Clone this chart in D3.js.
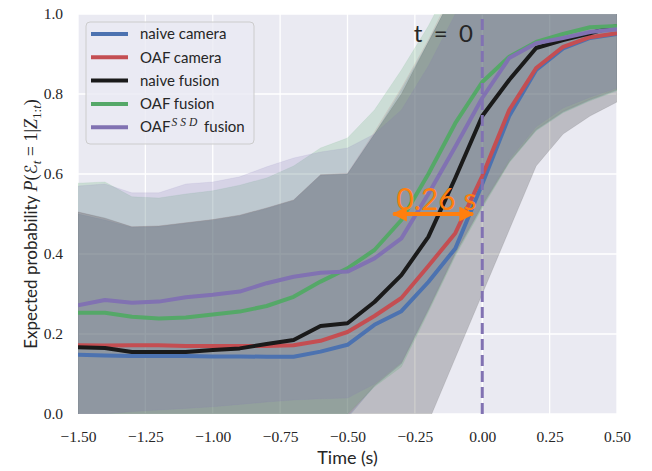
<!DOCTYPE html>
<html lang="en">
<head>
	<meta charset="utf-8"/>
	<title>Expected probability over time</title>
	<script src="https://d3js.org/d3.v7.min.js" charset="utf-8"></script>
	<style>
		body { margin: 0; background: #fff; }
		.axis .domain { display: none; }
		.axis text { font-family: "Liberation Serif", serif; font-size: 15.5px; fill: #262626; }
		.lbl { font-family: Lato, "Open Sans", sans-serif; fill: #262626; }
	</style>
</head>
<body>
<div id="chart"></div>

<script>
	// time steps (s)
	var times = [-1.5, -1.4, -1.3, -1.2, -1.1, -1.0, -0.9, -0.8, -0.7, -0.6, -0.5,
		-0.4, -0.3, -0.2, -0.1, 0.0, 0.1, 0.2, 0.3, 0.4, 0.5];

	var names = ["naive camera", "OAF camera", "naive fusion", "OAF fusion", "OAF^SSD fusion"];
	var colors = ["#4C72B0", "#C44E52", "#1a1a1a", "#55A868", "#8172B2"];
	var bandAlpha = [0.2, 0.1, 0.22, 0.2, 0.19];

	// mean curves
	var naiveCamera = [0.148, 0.146, 0.145, 0.145, 0.145, 0.144, 0.144, 0.143, 0.143, 0.156, 0.173,
		0.223, 0.257, 0.330, 0.414, 0.575, 0.745, 0.860, 0.914, 0.940, 0.950];
	var oafCamera = [0.172, 0.171, 0.172, 0.172, 0.170, 0.170, 0.170, 0.170, 0.172, 0.183, 0.205,
		0.245, 0.290, 0.370, 0.452, 0.595, 0.760, 0.865, 0.918, 0.942, 0.952];
	var naiveFusion = [0.167, 0.165, 0.155, 0.155, 0.155, 0.160, 0.164, 0.175, 0.185, 0.220, 0.227,
		0.280, 0.347, 0.443, 0.590, 0.745, 0.835, 0.915, 0.935, 0.952, 0.970];
	var oafFusion = [0.253, 0.253, 0.243, 0.239, 0.241, 0.249, 0.256, 0.270, 0.293, 0.331, 0.364,
		0.410, 0.485, 0.600, 0.727, 0.830, 0.893, 0.930, 0.950, 0.967, 0.970];
	var ssdFusion = [0.272, 0.285, 0.278, 0.281, 0.292, 0.298, 0.306, 0.327, 0.343, 0.353, 0.356,
		0.389, 0.439, 0.550, 0.668, 0.790, 0.890, 0.927, 0.940, 0.955, 0.962];

	// spread bands (lower / upper)
	var naiveCameraLo = [-0.20, -0.20, -0.20, -0.20, -0.20, -0.20, -0.20, -0.19, -0.16, -0.10, -0.01,
		0.070, 0.125, 0.26, 0.40, 0.52, 0.63, 0.71, 0.755, 0.785, 0.81];
	var naiveCameraHi = [0.500, 0.485, 0.466, 0.468, 0.476, 0.484, 0.495, 0.513, 0.533, 0.596, 0.600,
		0.700, 0.810, 0.930, 1.06, 1.10, 1.10, 1.10, 1.10, 1.10, 1.10];
	var oafCameraLo = [-0.18, -0.18, -0.18, -0.18, -0.18, -0.18, -0.18, -0.17, -0.15, -0.09, -0.005,
		0.072, 0.128, 0.262, 0.402, 0.522, 0.632, 0.712, 0.757, 0.787, 0.812];
	var oafCameraHi = [0.505, 0.488, 0.468, 0.470, 0.478, 0.486, 0.497, 0.515, 0.535, 0.598, 0.602,
		0.705, 0.815, 0.935, 1.07, 1.10, 1.10, 1.10, 1.10, 1.10, 1.10];
	var naiveFusionLo = [-0.17, -0.17, -0.16, -0.16, -0.16, -0.16, -0.17, -0.17, -0.17, -0.16, -0.15,
		-0.14, -0.11, -0.02, 0.14, 0.30, 0.46, 0.62, 0.70, 0.745, 0.78];
	var naiveFusionHi = [0.505, 0.490, 0.468, 0.470, 0.478, 0.486, 0.497, 0.515, 0.535, 0.598, 0.600,
		0.700, 0.800, 0.930, 1.06, 1.10, 1.10, 1.10, 1.10, 1.10, 1.10];
	var oafFusionLo = [-0.05, -0.05, -0.05, -0.05, -0.05, -0.05, -0.05, -0.04, -0.03, -0.02, 0.000,
		0.068, 0.118, 0.255, 0.395, 0.515, 0.628, 0.708, 0.753, 0.783, 0.808];
	var oafFusionHi = [0.577, 0.580, 0.543, 0.540, 0.550, 0.558, 0.572, 0.590, 0.620, 0.665, 0.690,
		0.760, 0.860, 0.970, 1.10, 1.10, 1.10, 1.10, 1.10, 1.10, 1.10];
	var ssdFusionLo = [0.000, 0.000, 0.006, 0.010, 0.014, 0.018, 0.024, 0.030, 0.035, 0.038, 0.040,
		0.075, 0.130, 0.265, 0.405, 0.525, 0.636, 0.718, 0.765, 0.792, 0.815];
	var ssdFusionHi = [0.570, 0.575, 0.553, 0.553, 0.575, 0.580, 0.593, 0.618, 0.640, 0.655, 0.665,
		0.700, 0.760, 0.870, 1.00, 1.10, 1.10, 1.10, 1.10, 1.10, 1.10];

	var xTicks = [-1.5, -1.25, -1.0, -0.75, -0.5, -0.25, 0.0, 0.25, 0.5];
	var yTicks = [0.0, 0.2, 0.4, 0.6, 0.8, 1.0];

	var means = [naiveCamera, oafCamera, naiveFusion, oafFusion, ssdFusion];
	var lows = [naiveCameraLo, oafCameraLo, naiveFusionLo, oafFusionLo, ssdFusionLo];
	var highs = [naiveCameraHi, oafCameraHi, naiveFusionHi, oafFusionHi, ssdFusionHi];

	var width = 652,
		height = 471;

	var svg = d3.select("#chart").append("svg")
		.attr("width", width)
		.attr("height", height);

	var x = d3.scaleLinear().domain([-1.5, 0.5]).range([78, 617]);
	var y = d3.scaleLinear().domain([0, 1]).range([414, 14]);

	var defs = svg.append("defs");
	defs.append("clipPath")
		.attr("id", "plotclip")
		.append("rect")
		.attr("x", x(-1.5)).attr("y", y(1))
		.attr("width", x(0.5) - x(-1.5)).attr("height", y(0) - y(1));

	// background + grid
	svg.append("rect")
		.attr("x", x(-1.5)).attr("y", y(1))
		.attr("width", x(0.5) - x(-1.5)).attr("height", y(0) - y(1))
		.attr("fill", "#EAEAF2");

	svg.append("g").selectAll("line")
		.data(xTicks).enter().append("line")
		.attr("x1", function(d) { return x(d); }).attr("x2", function(d) { return x(d); })
		.attr("y1", y(0)).attr("y2", y(1))
		.attr("stroke", "#fff").attr("stroke-width", 1.3);

	svg.append("g").selectAll("line")
		.data(yTicks).enter().append("line")
		.attr("y1", function(d) { return y(d); }).attr("y2", function(d) { return y(d); })
		.attr("x1", x(-1.5)).attr("x2", x(0.5))
		.attr("stroke", "#fff").attr("stroke-width", 1.3);

	var plot = svg.append("g").attr("clip-path", "url(#plotclip)");

	// bands
	means.forEach(function(m, s) {
		var area = d3.area()
			.x(function(d, i) { return x(times[i]); })
			.y0(function(d, i) { return y(lows[s][i]); })
			.y1(function(d, i) { return y(highs[s][i]); });
		plot.append("path")
			.datum(m)
			.attr("d", area)
			.attr("fill", colors[s])
			.attr("fill-opacity", bandAlpha[s])
			.attr("stroke", colors[s])
			.attr("stroke-opacity", 0.12)
			.attr("stroke-width", 0.8);
	});

	// mean lines
	var line = d3.line()
		.x(function(d, i) { return x(times[i]); })
		.y(function(d) { return y(d); });

	means.forEach(function(m, s) {
		plot.append("path")
			.datum(m)
			.attr("d", line)
			.attr("fill", "none")
			.attr("stroke", colors[s])
			.attr("stroke-width", 4)
			.attr("stroke-linejoin", "round");
	});

	// t = 0 marker
	plot.append("line")
		.attr("x1", x(0)).attr("x2", x(0))
		.attr("y1", y(0)).attr("y2", y(1))
		.attr("stroke", "#8172B2")
		.attr("stroke-width", 3)
		.attr("stroke-dasharray", "11,5");

	svg.append("text")
		.attr("class", "lbl")
		.attr("x", x(-0.035)).attr("y", 42)
		.attr("text-anchor", "end")
		.attr("font-size", 24)
		.attr("textLength", 59)
		.attr("lengthAdjust", "spacing")
		.text("t = 0");

	// 0.26 s arrow
	defs.append("marker")
		.attr("id", "head")
		.attr("viewBox", "0 0 10 10")
		.attr("refX", 9).attr("refY", 5)
		.attr("markerUnits", "userSpaceOnUse")
		.attr("markerWidth", 15).attr("markerHeight", 15)
		.attr("orient", "auto-start-reverse")
		.append("path")
		.attr("d", "M0,0L10,5L0,10z")
		.attr("fill", "#ff7f0e");

	svg.append("line")
		.attr("x1", x(-0.33)).attr("x2", x(-0.035))
		.attr("y1", y(0.5)).attr("y2", y(0.5))
		.attr("stroke", "#ff7f0e")
		.attr("stroke-width", 4)
		.attr("marker-start", "url(#head)")
		.attr("marker-end", "url(#head)");

	svg.append("text")
		.attr("x", x(-0.17)).attr("y", y(0.51))
		.attr("text-anchor", "middle")
		.attr("font-family", "Lato, sans-serif")
		.attr("font-size", 30)
		.attr("fill", "#ff7f0e")
		.text("0.26 s");

	// axes
	var fmtX = d3.format(".2f"), fmtY = d3.format(".1f");

	svg.append("g")
		.attr("class", "axis")
		.attr("transform", "translate(0," + y(0) + ")")
		.call(d3.axisBottom(x).tickValues(xTicks).tickSize(0).tickPadding(17).tickFormat(fmtX));

	svg.append("g")
		.attr("class", "axis")
		.attr("transform", "translate(" + x(-1.5) + ",0)")
		.call(d3.axisLeft(y).tickValues(yTicks).tickSize(0).tickPadding(15).tickFormat(fmtY));

	svg.append("text")
		.attr("class", "lbl")
		.attr("x", (x(-1.5) + x(0.5)) / 2).attr("y", 464)
		.attr("text-anchor", "middle")
		.attr("font-size", 18)
		.text("Time (s)");

	var serif = "Liberation Serif, serif";
	var ylab = svg.append("text")
		.attr("class", "lbl")
		.attr("transform", "translate(31,224) rotate(-90)")
		.attr("text-anchor", "middle")
		.attr("dy", "0.35em")
		.attr("font-size", 17);
	ylab.append("tspan").text("Expected probability ");
	ylab.append("tspan").attr("font-family", serif).attr("font-style", "italic").attr("font-size", 18).text("P");
	ylab.append("tspan").attr("font-family", serif).attr("font-size", 18).text("(");
	ylab.append("tspan").attr("font-family", "DejaVu Sans, sans-serif").attr("font-size", 17).text("\u2130");
	ylab.append("tspan").attr("font-family", serif).attr("font-style", "italic")
		.attr("font-size", 13).attr("dy", 4).text("t");
	ylab.append("tspan").attr("font-family", serif).attr("font-size", 18).attr("dy", -4).text(" = 1|");
	ylab.append("tspan").attr("font-family", serif).attr("font-style", "italic").attr("font-size", 18).text("Z");
	ylab.append("tspan").attr("font-family", serif).attr("font-size", 13).attr("dy", 4).text("1:");
	ylab.append("tspan").attr("font-family", serif).attr("font-style", "italic")
		.attr("font-size", 13).text("t");
	ylab.append("tspan").attr("font-family", serif).attr("font-size", 18).attr("dy", -4).text(")");

	// legend
	var legend = svg.append("g").attr("transform", "translate(86,22)");
	legend.append("rect")
		.attr("width", 168).attr("height", 122)
		.attr("rx", 4)
		.attr("fill", "#EAEAF2").attr("fill-opacity", 0.8)
		.attr("stroke", "#cccccc");

	var item = legend.selectAll(".item")
		.data(names).enter().append("g")
		.attr("class", "item")
		.attr("transform", function(d, i) { return "translate(0," + (12 + i * 23.3) + ")"; });

	item.append("line")
		.attr("x1", 5).attr("x2", 42)
		.attr("stroke", function(d, i) { return colors[i]; })
		.attr("stroke-width", 4);

	item.append("text")
		.attr("class", "lbl")
		.attr("x", 54).attr("dy", "0.35em")
		.attr("font-size", 15)
		.each(function(d) {
			var t = d3.select(this);
			if (d.indexOf("^") < 0) { t.text(d); return; }
			t.append("tspan").text("OAF");
			t.append("tspan").attr("font-family", serif).attr("font-style", "italic")
				.attr("font-size", 11.5).attr("letter-spacing", 3).attr("dx", 1).attr("dy", -6).text("SSD");
			t.append("tspan").attr("dy", 6).text(" fusion");
		});
</script>
</body>
</html>
